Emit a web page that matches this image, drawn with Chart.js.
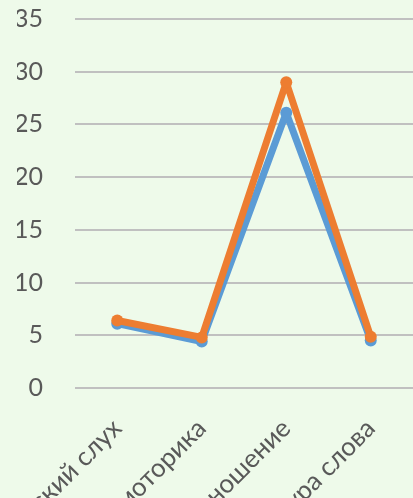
<!DOCTYPE html>
<html>
<head>
<meta charset="utf-8">
<script src="https://cdn.jsdelivr.net/npm/chart.js@4"></script>
<style>
  html, body { margin: 0; padding: 0; overflow: hidden; background: #eefaea; }
  #wrap { width: 419px; height: 498px; position: relative; }
</style>
</head>
<body>
<div id="wrap"><canvas id="line-chart"></canvas></div>
<script>
const categories = ['Фонематический слух', 'Артикуляционная моторика', 'Звукопроизношение', 'Слоговая структура слова'];
const seriesBlue = [6.1, 4.4, 26.1, 4.5];
const seriesOrange = [6.4, 4.8, 29.0, 4.85];
const yTicks = [0, 5, 10, 15, 20, 25, 30, 35];

new Chart(document.getElementById('line-chart'), {
    type: 'line',
    data: {
      labels: categories,
      datasets: [
        {
          label: 'Ряд 1',
          data: seriesBlue,
          borderColor: '#5b9bd5',
          backgroundColor: '#5b9bd5',
          borderWidth: 7,
          borderJoinStyle: 'round',
          borderCapStyle: 'round',
          pointRadius: 6,
          pointBorderWidth: 0,
          order: 2
        },
        {
          label: 'Ряд 2',
          data: seriesOrange,
          borderColor: '#ed7d31',
          backgroundColor: '#ed7d31',
          borderWidth: 7,
          borderJoinStyle: 'round',
          borderCapStyle: 'round',
          pointRadius: 6,
          pointBorderWidth: 0,
          order: 1
        }
      ]
    },
    options: {
      responsive: true,
      maintainAspectRatio: false,
      animation: false,
      layout: { padding: { left: 17, right: 0, top: 19, bottom: 0 } },
      plugins: { legend: { display: false }, tooltip: { enabled: false } },
      scales: {
        x: {
          offset: true,
          grid: { display: false },
          border: { display: false },
          ticks: {
            autoSkip: false,
            maxRotation: 45,
            minRotation: 45,
            padding: 17,
            color: '#595959',
            font: { family: 'Lato', size: 26 }
          },
          afterFit: scale => {
            scale.height = 110;
            scale.paddingLeft = 0;
            scale.paddingRight = 0;
            scale.paddingTop = 0;
            scale.paddingBottom = 0;
          }
        },
        y: {
          min: 0,
          max: 35,
          afterBuildTicks: scale => { scale.ticks = yTicks.map(v => ({ value: v })); },
          grid: { color: '#c0c0c0', lineWidth: 2, drawTicks: false },
          border: { display: false },
          ticks: {
            padding: 32,
            color: '#595959',
            font: { family: 'Lato', size: 25 }
          },
          afterFit: scale => {
            scale.width = 58;
            scale.paddingTop = 0;
            scale.paddingBottom = 0;
          }
        }
      }
    }
});
</script>
</body>
</html>
